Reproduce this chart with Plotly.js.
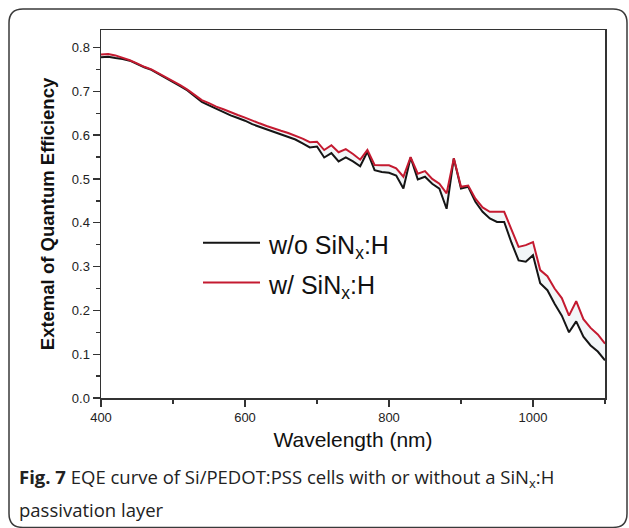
<!DOCTYPE html>
<html>
<head>
<meta charset="utf-8">
<script src="https://cdn.plot.ly/plotly-3.0.1.min.js"></script>
<style>
html,body{margin:0;padding:0;background:#fff;}
#chart{width:629px;height:528px;}
</style>
</head>
<body>
<div id="chart"></div>
<script>
// Wavelength (nm)
const wavelength = [400,410,420,430,440,450,460,470,480,490,500,510,520,530,540,550,560,570,580,590,600,610,620,630,640,650,660,670,680,690,700,710,720,730,740,750,760,770,780,790,800,810,820,830,840,850,860,870,880,890,900,910,920,930,940,950,960,970,980,990,1000,1010,1020,1030,1040,1050,1060,1070,1080,1090,1100];
// EQE without SiNx:H
const eqeWithout = [0.778,0.779,0.776,0.774,0.770,0.762,0.755,0.749,0.740,0.731,0.722,0.712,0.702,0.690,0.676,0.668,0.660,0.653,0.645,0.639,0.633,0.625,0.619,0.613,0.607,0.601,0.596,0.590,0.581,0.572,0.574,0.549,0.559,0.540,0.549,0.540,0.529,0.562,0.520,0.516,0.514,0.508,0.478,0.549,0.499,0.505,0.489,0.478,0.432,0.547,0.478,0.482,0.448,0.425,0.410,0.402,0.402,0.355,0.314,0.311,0.326,0.262,0.246,0.215,0.188,0.150,0.175,0.140,0.120,0.106,0.086];
// EQE with SiNx:H
const eqeWith = [0.784,0.785,0.782,0.777,0.771,0.764,0.756,0.750,0.741,0.733,0.724,0.714,0.704,0.693,0.680,0.673,0.665,0.659,0.652,0.646,0.640,0.633,0.627,0.621,0.615,0.610,0.605,0.599,0.592,0.584,0.585,0.566,0.577,0.561,0.568,0.557,0.544,0.566,0.532,0.531,0.531,0.524,0.505,0.550,0.512,0.518,0.500,0.489,0.467,0.547,0.482,0.485,0.455,0.435,0.425,0.425,0.425,0.385,0.345,0.349,0.356,0.292,0.278,0.250,0.228,0.188,0.221,0.180,0.160,0.145,0.124];

const seriesNames = ["w/o SiN<sub>x</sub>:H", "w/ SiN<sub>x</sub>:H"];
const xTickVals = [400,600,800,1000];
const yTickVals = [0.0,0.1,0.2,0.3,0.4,0.5,0.6,0.7,0.8];
const yTickText = ["0.0","0.1","0.2","0.3","0.4","0.5","0.6","0.7","0.8"];
const xTitle = "Wavelength (nm)";
const yTitle = "Extemal of Quantum Efficiency";
const captionLine1 = "<b>Fig. 7</b> EQE curve of Si/PEDOT:PSS cells with or without a SiN<sub>x</sub>:H";
const captionLine2 = "passivation layer";

// plot-area geometry in pixels
const L = 101, R = 605, T = 30, B = 397.7, W = 629, H = 528;
const px = x => (x - L) / (R - L);
const py = y => (B - y) / (B - T);

const black = "#151515", red = "#c41a30";

const traces = [
  {x: wavelength, y: eqeWithout, type: "scatter", mode: "lines", name: seriesNames[0],
   line: {color: black, width: 2}, showlegend: false},
  {x: wavelength, y: eqeWith, type: "scatter", mode: "lines", name: seriesNames[1],
   line: {color: red, width: 2}, fill: "tonexty", fillcolor: "rgba(195,215,225,0.22)", showlegend: false}
];

// rounded outer frame path
const bx0 = 9, by0 = 9, bx1 = 627, by1 = 527, r = 14;
const framePath = [
  `M ${px(bx0 + r)} ${py(by0)}`,
  `L ${px(bx1 - r)} ${py(by0)}`,
  `Q ${px(bx1)} ${py(by0)} ${px(bx1)} ${py(by0 + r)}`,
  `L ${px(bx1)} ${py(by1 - r)}`,
  `Q ${px(bx1)} ${py(by1)} ${px(bx1 - r)} ${py(by1)}`,
  `L ${px(bx0 + r)} ${py(by1)}`,
  `Q ${px(bx0)} ${py(by1)} ${px(bx0)} ${py(by1 - r)}`,
  `L ${px(bx0)} ${py(by0 + r)}`,
  `Q ${px(bx0)} ${py(by0)} ${px(bx0 + r)} ${py(by0)}`,
  "Z"
].join(" ");

const legendX0 = 203, legendX1 = 260, legendTextX = 266;
const legendY = [242.7, 282.3];
const legendColors = [black, red];

const shapes = [
  {type: "path", xref: "paper", yref: "paper", path: framePath, line: {color: "#3a3a3a", width: 1.5}, layer: "below"}
];
const annotations = [];
seriesNames.forEach((n, i) => {
  shapes.push({type: "line", xref: "paper", yref: "paper", x0: px(legendX0), x1: px(legendX1),
    y0: py(legendY[i]), y1: py(legendY[i]), line: {color: legendColors[i], width: 2}});
  annotations.push({xref: "paper", yref: "paper", x: px(legendTextX), y: py(legendY[i] + 4),
    xanchor: "left", yanchor: "middle", showarrow: false, text: n,
    font: {family: "Arial, Liberation Sans, sans-serif", size: 25, color: "#111"}});
});
annotations.push({xref: "paper", yref: "paper", x: px(17), y: py(478), xanchor: "left", yanchor: "middle",
  showarrow: false, text: captionLine1, font: {family: "Open Sans, sans-serif", size: 18.5, color: "#222"}});
annotations.push({xref: "paper", yref: "paper", x: px(17), y: py(509), xanchor: "left", yanchor: "middle",
  showarrow: false, text: captionLine2, font: {family: "Open Sans, sans-serif", size: 18.5, color: "#222"}});

const axisFont = {family: "Arial, Liberation Sans, sans-serif", size: 13, color: "#222"};

const layout = {
  width: W, height: H,
  margin: {l: L, r: W - R, t: T, b: H - B},
  paper_bgcolor: "#fff", plot_bgcolor: "#fff",
  showlegend: false,
  xaxis: {
    range: [400, 1100], tickvals: xTickVals, ticks: "outside", ticklen: 7, tickwidth: 1.3, tickcolor: "#333",
    minor: {dtick: 100, tick0: 400, ticks: "outside", ticklen: 4, tickwidth: 1.3, tickcolor: "#333"},
    showline: true, linecolor: "#333", linewidth: 1.5, mirror: true, showgrid: false, zeroline: false,
    tickfont: axisFont,
    title: {text: xTitle, standoff: 8, font: {family: "Arial, Liberation Sans, sans-serif", size: 21, color: "#111"}}
  },
  yaxis: {
    range: [0, 0.84], tickvals: yTickVals, ticktext: yTickText, ticks: "outside", ticklen: 7, tickwidth: 1.3, tickcolor: "#333",
    minor: {dtick: 0.05, tick0: 0, ticks: "outside", ticklen: 4, tickwidth: 1.3, tickcolor: "#333"},
    showline: true, linecolor: "#333", linewidth: 1.5, mirror: true, showgrid: false, zeroline: false,
    tickfont: axisFont,
    title: {text: "<b>" + yTitle + "</b>", standoff: 12, font: {family: "Arial, Liberation Sans, sans-serif", size: 18.5, color: "#111"}}
  },
  shapes: shapes,
  annotations: annotations
};

Plotly.newPlot("chart", traces, layout, {staticPlot: true, displayModeBar: false});
</script>
</body>
</html>
